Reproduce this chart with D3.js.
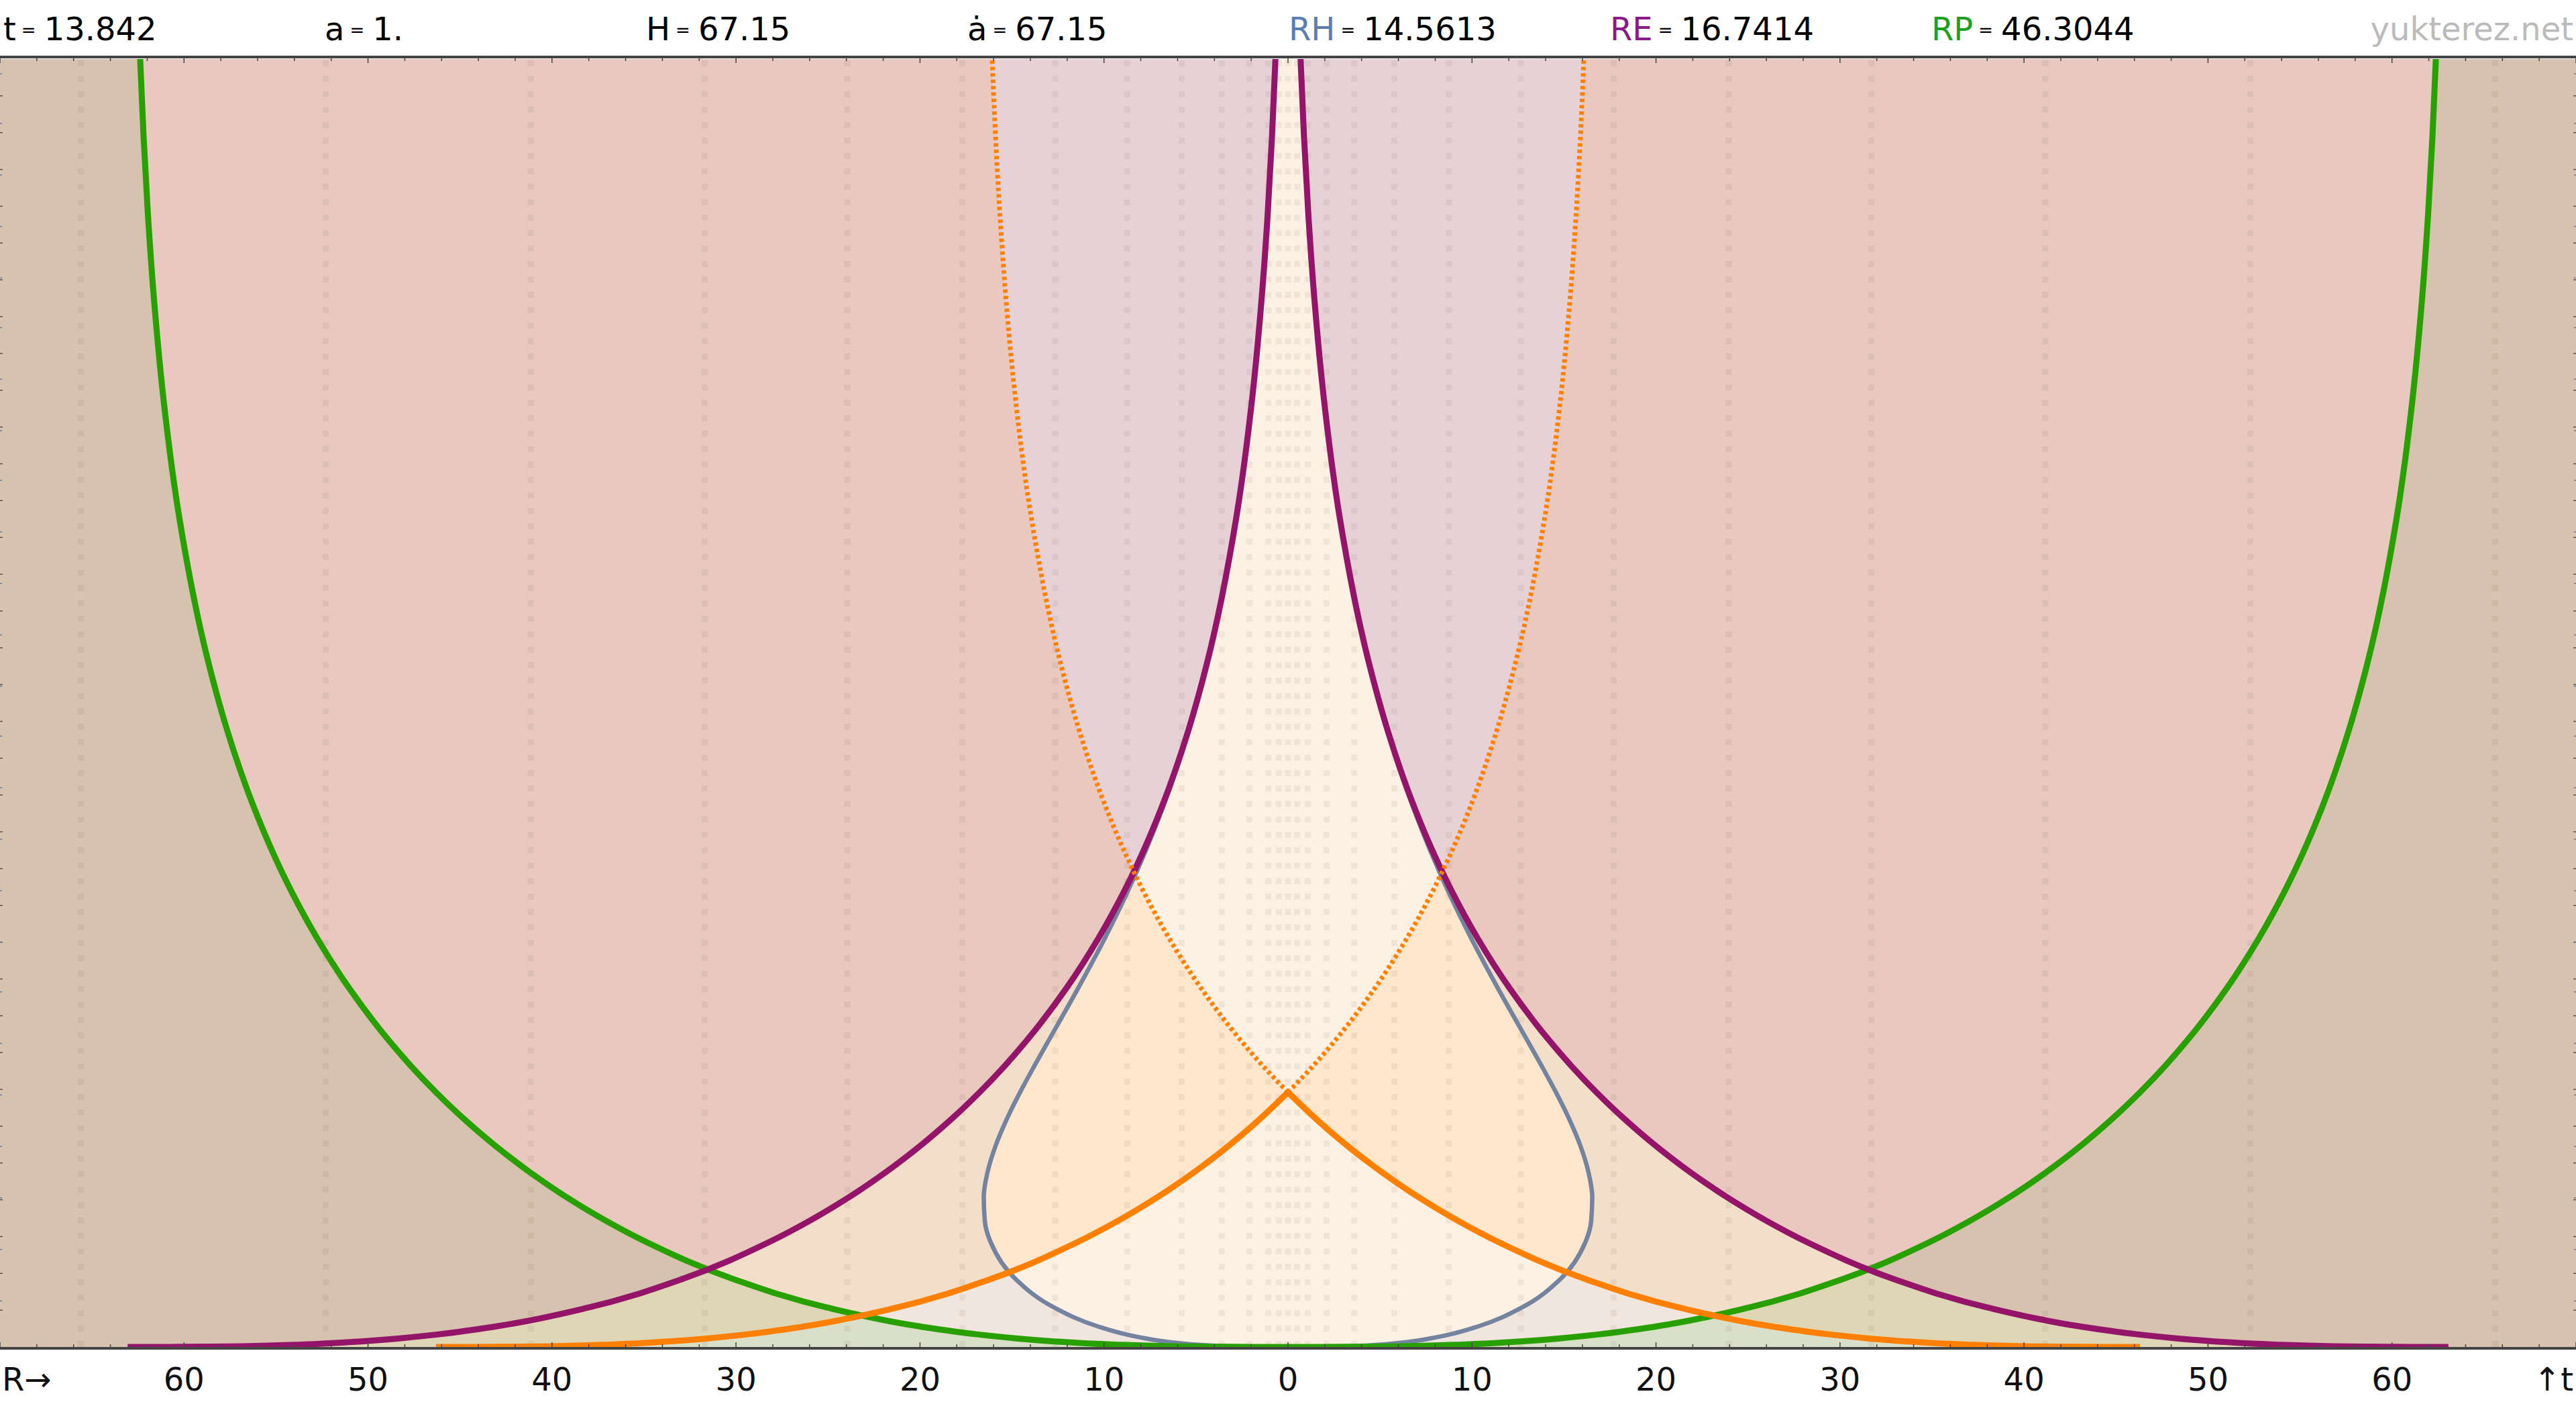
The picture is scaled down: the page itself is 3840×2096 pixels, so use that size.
<!DOCTYPE html>
<html><head><meta charset="utf-8">
<script src="https://cdn.jsdelivr.net/npm/d3@7"></script>
<style>
html,body{margin:0;padding:0;background:#fff;}
svg{display:block;}
text{font-family:"DejaVu Sans",sans-serif;}
</style></head>
<body>
<script>
// ---------------- data ----------------
// cosmic time t [Gyr] at which the curves were sampled
const tSamples = [0, 0.000049, 0.000546, 0.002157, 0.006102, 0.01726, 0.04881, 0.1381, 0.2696, 0.4659, 0.7170, 1.1029, 2.1455, 3.6682, 5.6948, 6.8407, 8.1653, 9.4838, 10.938, 12.345, 13.842, 15.261, 16.735, 19.535, 22.202, 24.723, 27.100, 29.341, 33.460, 37.162, 45.026, 51.461, 56.903, 61.617, 65.776, 69.497, 70.196];
// comoving particle horizon (green)
const particleR = [0, 0.305, 1.063, 1.959, 3.001, 4.494, 6.620, 9.638, 12.196, 14.778, 17.174, 19.935, 25.056, 30.071, 34.858, 37.038, 39.248, 41.185, 43.086, 44.731, 46.305, 47.657, 48.932, 51.050, 52.758, 54.142, 55.273, 56.206, 57.636, 58.664, 60.248, 61.109, 61.628, 61.965, 62.197, 62.362, 62.389];
// comoving event horizon (purple)
const eventR = [63.067, 62.762, 62.004, 61.108, 60.066, 58.573, 56.447, 53.429, 50.871, 48.289, 45.893, 43.132, 38.011, 32.996, 28.209, 26.029, 23.819, 21.882, 19.981, 18.336, 16.762, 15.410, 14.135, 12.017, 10.309, 8.925, 7.794, 6.861, 5.431, 4.403, 2.819, 1.958, 1.439, 1.102, 0.870, 0.705, 0.678];
// comoving Hubble radius (blue grey)
const hubbleR = [0, 0.259, 0.747, 1.244, 1.792, 2.559, 3.637, 5.156, 6.459, 7.738, 8.935, 10.292, 12.709, 14.782, 16.161, 16.477, 16.534, 16.333, 15.890, 15.301, 14.561, 13.793, 12.964, 11.385, 9.961, 8.727, 7.679, 6.792, 5.403, 4.391, 2.818, 1.958, 1.439, 1.102, 0.870, 0.705, 0.678];
// past light cone (orange, solid)
const pastT = [0, 0.000049, 0.000546, 0.002157, 0.006102, 0.01726, 0.04881, 0.1381, 0.2696, 0.4659, 0.7170, 1.1029, 2.1455, 3.6682, 5.6948, 6.8407, 8.1653, 9.4838, 10.938, 12.345, 13.842];
const pastR = [46.305, 46.000, 45.242, 44.346, 43.304, 41.811, 39.685, 36.667, 34.109, 31.527, 29.131, 26.370, 21.249, 16.234, 11.447, 9.267, 7.057, 5.120, 3.219, 1.574, 0];
// future light cone (orange, dotted)
const futureT = [13.842, 15.261, 16.735, 19.535, 22.202, 24.723, 27.100, 29.341, 33.460, 37.162, 45.026, 51.461, 56.903, 61.617, 65.776, 69.497, 70.196];
const futureR = [0, 1.352, 2.627, 4.745, 6.453, 7.837, 8.968, 9.901, 11.331, 12.359, 13.943, 14.804, 15.323, 15.660, 15.892, 16.057, 16.084];
// comoving world lines (dotted verticals)
const gridR = [0, 0.5, 1.07, 2.1, 3.6, 5.78, 8.74, 12.65, 17.7, 23.95, 31.7, 41.15, 52.3, 65.6];
// axis ticks
const xTickValues = d3.range(-70, 71, 2);
const xTickLabels = [-60, -50, -40, -30, -20, -10, 0, 10, 20, 30, 40, 50, 60];
const tTicksA = d3.range(2, 70, 2);
const tTicksB = [2.5, 5.3, 8.1, 10.9, 13.7, 16.5, 19.3, 22.0, 24.8, 27.6, 30.4, 33.2, 35.9, 38.7, 41.5, 44.3, 47.1, 49.8, 52.6, 55.4, 58.1, 60.9, 63.7, 66.5, 69.2];
// header
const headerNames = ["t", "a", "H", "ȧ", "RH", "RE", "RP"];
const headerValues = ["13.842", "1.", "67.15", "67.15", "14.5613", "16.7414", "46.3044"];
const headerColors = ["#000000", "#000000", "#000000", "#000000", "#5B7DB5", "#8B1A89", "#1EA01E"];

// ---------------- drawing ----------------
const W = 3840, H = 2096;
const x = d3.scaleLinear().domain([-70, 70]).range([0, W]);
const y = d3.scaleLinear().domain([0, 70]).range([2008, 88]);

const svg = d3.select("body").append("svg").attr("width", W).attr("height", H);
svg.append("rect").attr("width", W).attr("height", H).attr("fill", "#ffffff");
const defs = svg.append("defs");

const lineY = d3.line().curve(d3.curveMonotoneY);
function sidePts(T, R, s) { return T.map((t, i) => [x(s * R[i]), y(t)]); }
function areaPath(T, R) {
  const right = lineY(sidePts(T, R, 1));
  const left = lineY(sidePts(T, R, -1).reverse()).replace(/^M/, "L");
  return right + left + "Z";
}
const gPath = areaPath(tSamples, particleR);
const pPath = areaPath(tSamples, eventR);
const hPath = areaPath(tSamples, hubbleR);
const lPastPath = areaPath(pastT, pastR);
const lFutPath = areaPath(futureT, futureR);

function addClip(id, d) { defs.append("clipPath").attr("id", id).append("path").attr("d", d); }
defs.append("clipPath").attr("id", "plot").append("rect")
  .attr("x", 0).attr("y", y(70)).attr("width", W).attr("height", y(0) - y(70));
addClip("cG", gPath); addClip("cP", pPath); addClip("cH", hPath);

const plot = svg.append("g").attr("clip-path", "url(#plot)");
function lc(g, fill) {
  g.append("path").attr("d", lPastPath).attr("fill", fill);
  g.append("path").attr("d", lFutPath).attr("fill", fill);
}
plot.append("rect").attr("x", 0).attr("y", y(70)).attr("width", W).attr("height", y(0) - y(70)).attr("fill", "#D6C2AE");
plot.append("path").attr("d", pPath).attr("fill", "#DFD6B6");
lc(plot.append("g").attr("clip-path", "url(#cP)"), "#DADFC8");
plot.append("path").attr("d", gPath).attr("fill", "#E8C8BF");
const inG = plot.append("g").attr("clip-path", "url(#cG)");
inG.append("path").attr("d", pPath).attr("fill", "#F2DEC9");
lc(inG, "#E6D2D6");
lc(inG.append("g").attr("clip-path", "url(#cP)"), "#F1E6DD");
plot.append("path").attr("d", hPath).attr("fill", "#FEE7CD");
lc(plot.append("g").attr("clip-path", "url(#cH)"), "#FDF1E4");

// dotted comoving world lines
const gridAll = Array.from(new Set(gridR.flatMap(r => [r, -r])));
plot.selectAll("line.grid").data(gridAll).join("line").attr("class", "grid")
  .attr("x1", d => x(d)).attr("x2", d => x(d)).attr("y1", 90).attr("y2", y(0))
  .attr("stroke", "rgba(100,70,50,0.075)").attr("stroke-width", 9).attr("stroke-dasharray", "9,14");

function curve(T, R, color, width, dash) {
  [1, -1].forEach(s => {
    const p = plot.append("path").attr("d", lineY(sidePts(T, R, s))).attr("fill", "none")
      .attr("stroke", color).attr("stroke-width", width);
    if (dash) p.attr("stroke-dasharray", dash);
  });
}
curve(tSamples, hubbleR, "#7483A0", 6.5);
curve(tSamples, particleR, "#28A100", 9);
curve(tSamples, eventR, "#931468", 9);
curve(pastT, pastR, "#FF8000", 9);
curve(futureT, futureR, "#FF8000", 7, "5,4.5");

// frame
svg.append("rect").attr("x", 0).attr("y", 83).attr("width", W).attr("height", 4).attr("fill", "#444");
svg.append("rect").attr("x", 0).attr("y", 2008).attr("width", W).attr("height", 4).attr("fill", "#444");
const tickG = svg.append("g").attr("stroke", "#444").attr("stroke-width", 1.5);
xTickValues.forEach(v => {
  const len = v % 10 === 0 ? 7 : 4;
  tickG.append("line").attr("x1", x(v)).attr("x2", x(v)).attr("y1", 87).attr("y2", 87 + len);
  tickG.append("line").attr("x1", x(v)).attr("x2", x(v)).attr("y1", 2008).attr("y2", 2008 - len);
});
tTicksA.forEach(v => {
  tickG.append("line").attr("x1", 0).attr("x2", 4).attr("y1", y(v)).attr("y2", y(v)).attr("stroke", "#555");
  tickG.append("line").attr("x1", W).attr("x2", W - 4).attr("y1", y(v)).attr("y2", y(v)).attr("stroke", "#555");
});
tTicksB.forEach(v => {
  tickG.append("line").attr("x1", 0).attr("x2", 3).attr("y1", y(v)).attr("y2", y(v)).attr("stroke", "#6A7A99");
  tickG.append("line").attr("x1", W).attr("x2", W - 3).attr("y1", y(v)).attr("y2", y(v)).attr("stroke", "#6A7A99");
});

// bottom axis labels
svg.append("g").selectAll("text").data(xTickLabels).join("text")
  .attr("x", d => x(d)).attr("y", 2073).attr("text-anchor", "middle")
  .attr("font-size", 48).attr("fill", "#111").text(d => Math.abs(d));
svg.append("text").attr("x", 3).attr("y", 2073).attr("font-size", 48).attr("fill", "#111").text("R→");
svg.append("text").attr("x", 3836).attr("y", 2073).attr("text-anchor", "end").attr("font-size", 48).attr("fill", "#111").text("↑t");

// header
headerNames.forEach((n, i) => {
  const t = svg.append("text").attr("x", 5 + i * 479).attr("y", 60).attr("font-size", 48);
  t.append("tspan").attr("fill", headerColors[i]).text(n);
  t.append("tspan").attr("dx", 8).attr("font-size", 26).attr("dy", -6).attr("fill", "#000").text("=");
  t.append("tspan").attr("dx", 12).attr("dy", 6).attr("fill", "#000").text(headerValues[i]);
});
svg.append("text").attr("x", 3836).attr("y", 60).attr("text-anchor", "end").attr("font-size", 48)
  .attr("fill", "#BBBBBB").text("yukterez.net");
</script>
</body></html>
